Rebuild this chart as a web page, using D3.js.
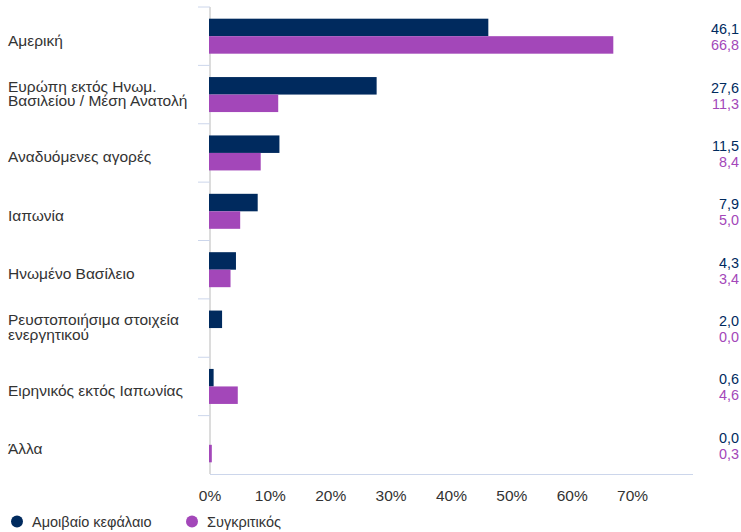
<!DOCTYPE html>
<html>
<head>
<meta charset="utf-8">
<script src="https://cdn.jsdelivr.net/npm/d3@7"></script>
<style>
  html, body { margin: 0; padding: 0; background: #fff; }
  svg { display: block; font-family: "Liberation Sans", Arial, Helvetica, sans-serif; }
</style>
</head>
<body>
<svg id="chart" width="741" height="532"></svg>
<script>
const categories = [
  ["Αμερική"],
  ["Ευρώπη εκτός Ηνωμ.", "Βασιλείου / Μέση Ανατολή"],
  ["Αναδυόμενες αγορές"],
  ["Ιαπωνία"],
  ["Ηνωμένο Βασίλειο"],
  ["Ρευστοποιήσιμα στοιχεία", "ενεργητικού"],
  ["Ειρηνικός εκτός Ιαπωνίας"],
  ["Άλλα"]
];
const fundValues = [46.1, 27.6, 11.5, 7.9, 4.3, 2.0, 0.6, 0.0];
const benchValues = [66.8, 11.3, 8.4, 5.0, 3.4, 0.0, 4.6, 0.3];
const seriesNames = ["Αμοιβαίο κεφάλαιο", "Συγκριτικός"];
const xTicks = [0, 10, 20, 30, 40, 50, 60, 70];
const colors = ["#002a5e", "#a347b9"];

(function () {
const svg = d3.select("#chart");
const mLeft = 210, mRight = 693, mTop = 7, mBottom = 474;

const x = d3.scaleLinear().domain([0, 80]).range([mLeft, mRight]);
const y = d3.scaleBand().domain(d3.range(categories.length)).range([mTop, mBottom]);
const inner = d3.scaleBand().domain([0, 1]).range([0, 35]);

// y axis line & ticks (drawn under the bars)
svg.append("line").attr("x1", mLeft).attr("x2", mLeft).attr("y1", mTop).attr("y2", mBottom)
  .attr("stroke", "#dcdcdc").attr("stroke-width", 2);
const tickPos = d3.range(categories.length).map(i => mTop + i * y.step());
svg.append("g").selectAll("line").data(tickPos).join("line")
  .attr("x1", 198).attr("x2", mLeft).attr("y1", d => d).attr("y2", d => d)
  .attr("stroke", "#ccd6eb").attr("stroke-width", 1);

// x axis line
svg.append("line").attr("x1", mLeft).attr("x2", mRight).attr("y1", mBottom + 0.5).attr("y2", mBottom + 0.5)
  .attr("stroke", "#ccd6eb").attr("stroke-width", 1);

// bars
const series = [fundValues, benchValues];
series.forEach((vals, si) => {
  svg.append("g").selectAll("rect").data(vals).join("rect")
    .attr("x", x(0) - 1)
    .attr("y", (d, i) => y(i) + y.bandwidth() / 2 - 17.5 + inner(si))
    .attr("width", d => d > 0 ? x(d) - x(0) + 1 : 0)
    .attr("height", inner.bandwidth())
    .attr("fill", colors[si]);
});

// x tick labels
svg.append("g").selectAll("text").data(xTicks).join("text")
  .attr("x", d => x(d)).attr("y", 501)
  .attr("text-anchor", "middle")
  .attr("font-size", 15.5).attr("fill", "#333")
  .text(d => d + "%");

// category labels
categories.forEach((lines, i) => {
  const c = y(i) + y.bandwidth() / 2;
  const t = svg.append("text").attr("x", 8).attr("font-size", 15.5).attr("fill", "#333");
  if (lines.length === 1) {
    t.attr("y", c + 9.5).text(lines[0]);
  } else {
    lines.forEach((l, k) => t.append("tspan").attr("x", 8).attr("y", c - 3 + k * 14.5).text(l));
  }
});

// value labels
const fmt = v => v.toFixed(1).replace(".", ",");
series.forEach((vals, si) => {
  svg.append("g").selectAll("text").data(vals).join("text")
    .attr("x", 739)
    .attr("y", (d, i) => y(i) + y.bandwidth() / 2 - 2 + si * 16)
    .attr("text-anchor", "end")
    .attr("font-size", 14.4)
    .attr("fill", colors[si])
    .text(d => fmt(d));
});

// legend
const legendX = [17, 192];
seriesNames.forEach((n, i) => {
  const g = svg.append("g");
  g.append("circle").attr("cx", legendX[i]).attr("cy", 521.5).attr("r", 6).attr("fill", colors[i]);
  g.append("text").attr("x", legendX[i] + 15).attr("y", 526.5)
    .attr("font-size", 14.5).attr("fill", "#333").text(n);
});
})();
</script>
</body>
</html>
